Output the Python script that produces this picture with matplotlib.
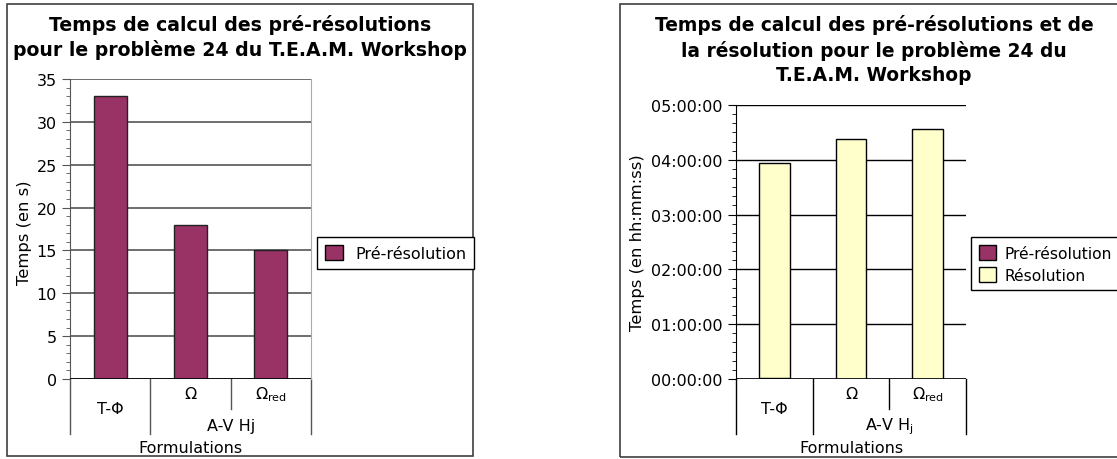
import matplotlib
matplotlib.use("Agg")
import matplotlib.pyplot as plt
import matplotlib.transforms as mtransforms
from matplotlib.patches import Rectangle, Patch
from matplotlib.ticker import MultipleLocator, FuncFormatter
import pandas as pd

plt.rcParams['font.family'] = ['DejaVu Sans']

categories = ["T-\u03a6", "\u03a9", "\u03a9$_\\mathregular{red}$"]
pre_resolution_s = [33, 18, 15]
resolution = ["03:55:40", "04:22:10", "04:33:45"]

PURPLE = "#993366"
YELLOW = "#FFFFCC"
W, H = 1117, 460
FS = 11.5

fig = plt.figure(figsize=(W / 100, H / 100), dpi=100)


def box(x0, y0, x1, y1):
    # pixel box (top-left origin) -> figure fraction rect
    return [x0 / W, 1 - y1 / H, (x1 - x0) / W, (y1 - y0) / H]


def frame(x0, y0, x1, y1):
    r = Rectangle((x0 / W, 1 - y1 / H), (x1 - x0) / W, (y1 - y0) / H,
                  transform=fig.transFigure, fill=False, edgecolor="#404040",
                  linewidth=1.2)
    fig.add_artist(r)


def title(cx, lines, ys, size):
    for s, y in zip(lines, ys):
        fig.text(cx / W, 1 - y / H, s, ha="center", va="center",
                 fontsize=size, fontweight="bold")


def category_axis(ax, group_label, col):
    tr = ax.get_xaxis_transform()
    for x, depth in [(-0.5, 55), (0.5, 55), (1.5, 30), (2.5, 55)]:
        y_end = -depth / (ax.bbox.height)
        ax.plot([x, x], [0, y_end], transform=tr, color=col, lw=1, clip_on=False)
    def lab(x, dy, s):
        t = mtransforms.offset_copy(tr, fig=fig, y=-dy, units='dots')
        ax.text(x, 0, s, transform=t, ha="center", va="center", fontsize=FS)
    lab(0, 30, categories[0])
    lab(1, 15, categories[1])
    lab(2, 15, categories[2])
    lab(1.5, 47, group_label)
    lab(1, 69, "Formulations")


x = range(len(categories))

# ---- left chart
frame(7, 5, 473, 457)
ax1 = fig.add_axes(box(70, 80, 311, 380))
ax1.bar(x, pre_resolution_s, width=0.41, color=PURPLE, edgecolor="#222222",
        linewidth=1, zorder=3)
ax1.set_xlim(-0.5, 2.5)
ax1.set_ylim(0, 35)
ax1.yaxis.set_major_locator(MultipleLocator(5))
ax1.yaxis.set_minor_locator(MultipleLocator(1))
ax1.set_xticks([])
ax1.grid(axis="y", color="#555555", lw=1.2, zorder=0)
for s in ["top", "bottom"]:
    ax1.spines[s].set_visible(False)
ax1.spines["right"].set_color("#aaaaaa")
ax1.spines["left"].set_color("#555555")
ax1.axhline(0, color="black", lw=1.2, zorder=4)
ax1.tick_params(axis="y", which="major", length=6, labelsize=FS, color="#555555")
ax1.tick_params(axis="y", which="minor", length=3, color="#555555")
ax1.set_ylabel("Temps (en s)", fontsize=11.8)
ax1.yaxis.set_label_coords(-0.158, 0.49)
title(240, ["Temps de calcul des pré-résolutions",
            "pour le problème 24 du T.E.A.M. Workshop"], [25, 50], 13.6)
category_axis(ax1, "A-V Hj", "#555555")

fig.legend(handles=[Patch(facecolor=PURPLE, edgecolor="black", label="Pré-résolution")],
           loc="upper left", bbox_to_anchor=(317 / W, 1 - 238 / H), borderaxespad=0,
           fancybox=False, edgecolor="black", fontsize=FS, handlelength=1.1,
           handleheight=1.1, borderpad=0.5, framealpha=1)

# ---- right chart
frame(620, 5, 1125, 458)
ax2 = fig.add_axes(box(736, 106, 966, 380))
res_s = pd.to_timedelta(resolution).total_seconds().values
ax2.bar(x, pre_resolution_s, width=0.40, color=PURPLE, edgecolor="black",
        linewidth=1, zorder=3)
ax2.bar(x, res_s, bottom=pre_resolution_s, width=0.40, color=YELLOW,
        edgecolor="black", linewidth=1, zorder=3)
ax2.set_xlim(-0.5, 2.5)
ax2.set_ylim(0, 5 * 3600)
ax2.yaxis.set_major_locator(MultipleLocator(3600))
ax2.yaxis.set_minor_locator(MultipleLocator(600))
ax2.yaxis.set_major_formatter(FuncFormatter(
    lambda v, p: "%02d:%02d:%02d" % (v // 3600, (v % 3600) // 60, v % 60)))
ax2.set_xticks([])
ax2.grid(axis="y", color="black", lw=1, zorder=0)
for s in ["top", "bottom", "right"]:
    ax2.spines[s].set_visible(False)
ax2.axhline(0, color="black", lw=1.2, zorder=4)
ax2.tick_params(axis="y", which="major", length=6, labelsize=FS)
ax2.tick_params(axis="y", which="minor", length=3)
ax2.set_ylabel("Temps (en hh:mm:ss)", fontsize=11.8)
ax2.yaxis.set_label_coords(-0.396, 0.5)
title(874, ["Temps de calcul des pré-résolutions et de",
            "la résolution pour le problème 24 du",
            "T.E.A.M. Workshop"], [25, 51, 76], 13.4)
category_axis(ax2, "A-V H$_\\mathregular{j}$", "black")

fig.legend(handles=[Patch(facecolor=PURPLE, edgecolor="black", label="Pré-résolution"),
                    Patch(facecolor=YELLOW, edgecolor="black", label="Résolution")],
           loc="upper left", bbox_to_anchor=(971 / W, 1 - 238 / H), borderaxespad=0,
           fancybox=False, edgecolor="black", fontsize=11.2, handlelength=1.1,
           handleheight=1.1, handletextpad=0.55, borderpad=0.5, labelspacing=0.4,
           framealpha=1)

fig.savefig("out.png", dpi=100)
